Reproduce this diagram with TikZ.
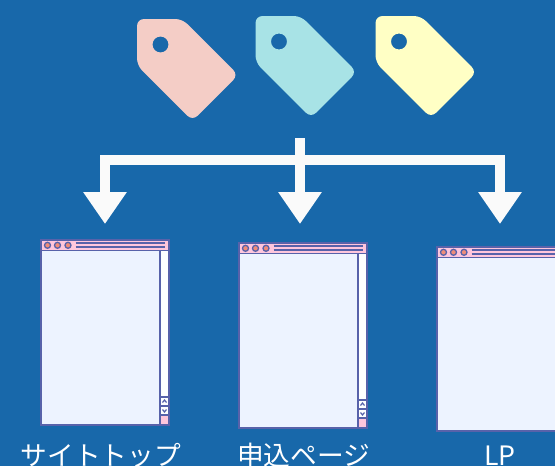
\documentclass[tikz,border=0pt]{standalone}
\usepackage{fontspec}
\setmainfont{Noto Sans CJK JP}
\usetikzlibrary{positioning}
\usetikzlibrary{arrows.meta}
\definecolor{sfondo}{RGB}{24,104,170}
\definecolor{rosa}{RGB}{244,205,198}
\definecolor{turchese}{RGB}{168,227,230}
\definecolor{giallo}{RGB}{255,255,197}
\definecolor{bordo}{RGB}{88,98,170}
\definecolor{barra}{RGB}{255,198,220}
\definecolor{pagina}{RGB}{237,243,255}
\definecolor{punto}{RGB}{240,140,120}
\definecolor{bianco}{RGB}{250,250,250}
\begin{document}
\begin{tikzpicture}[x=1pt,y=-1pt,line join=miter,
linea/.style={draw=bianco,line width=10pt},
freccia/.style={linea,-{Triangle[width=41.5pt,length=32pt,fill=bianco]}},
etichetta/.style={text=white,font=\fontsize{26.7pt}{27pt}\selectfont,anchor=base,inner sep=0pt},
contorno/.style={draw=bordo,line width=1.3pt},
etichettaTag/.pic={
  \fill[rounded corners=7pt,even odd rule,pic actions] (0,0) -- (45.3,0) -- (101.3,56) -- (55.5,101.8) -- (0,46.4) -- cycle
    (23.5,25.5) circle[radius=8];
},
finestra/.pic={
  \draw[contorno,fill=barra] (0,0) rectangle (128,10.5);
  \draw[contorno,fill=pagina] (0,10.5) rectangle (119,#1);
  \draw[contorno,fill=white] (119,10.5) rectangle (128,157);
  \draw[contorno,fill=white] (119,157) rectangle (128,166);
  \draw[contorno,fill=white] (119,166) rectangle (128,175);
  \draw[contorno,fill=barra] (119,175) rectangle (128,#1);
  \draw[contorno,line width=1.2pt] (121.5,162.5) -- (123.5,160) -- (125.5,162.5);
  \draw[contorno,line width=1.2pt] (121.5,169.5) -- (123.5,172) -- (125.5,169.5);
  \foreach \cx in {6.5,16.5,27} {\draw[contorno,fill=punto] (\cx,5.3) circle[radius=3];}
  \draw[contorno,line width=1.5pt] (34.5,3.2) -- (124,3.2);
  \draw[contorno,line width=1.5pt] (34.5,7.2) -- (124,7.2);
}]
\clip (0,0) rectangle (555,466);
\useasboundingbox (0,0) rectangle (555,466);
\fill[sfondo] (0,0) rectangle (555,466);
%--
\pic[fill=rosa] at (137,19) {etichettaTag};
\pic[fill=turchese] at (255.5,16) {etichettaTag};
\pic[fill=giallo] at (375.5,16) {etichettaTag};
%--
\pic at (41,240) {finestra=185};
\pic at (239,243) {finestra=185};
\pic at (437,247) {finestra=184};
%--
\coordinate (origine) at (300,138);
\coordinate (snodo) at (300,159.5);
\coordinate (fineA) at (105,224);
\coordinate (fineB) at (300,224);
\coordinate (fineC) at (500,224);
\draw[freccia] (snodo) -| (fineA);
\draw[freccia] (snodo) -| (fineC);
\draw[freccia] (origine) -- (fineB);
%--
\node[etichetta] (sito) at (101,465) {サイトトップ};
\node[etichetta] (modulo) at (303.5,465) {申込ページ};
\node[etichetta] (lp) at (500,465) {LP};
\end{tikzpicture}
\end{document}
